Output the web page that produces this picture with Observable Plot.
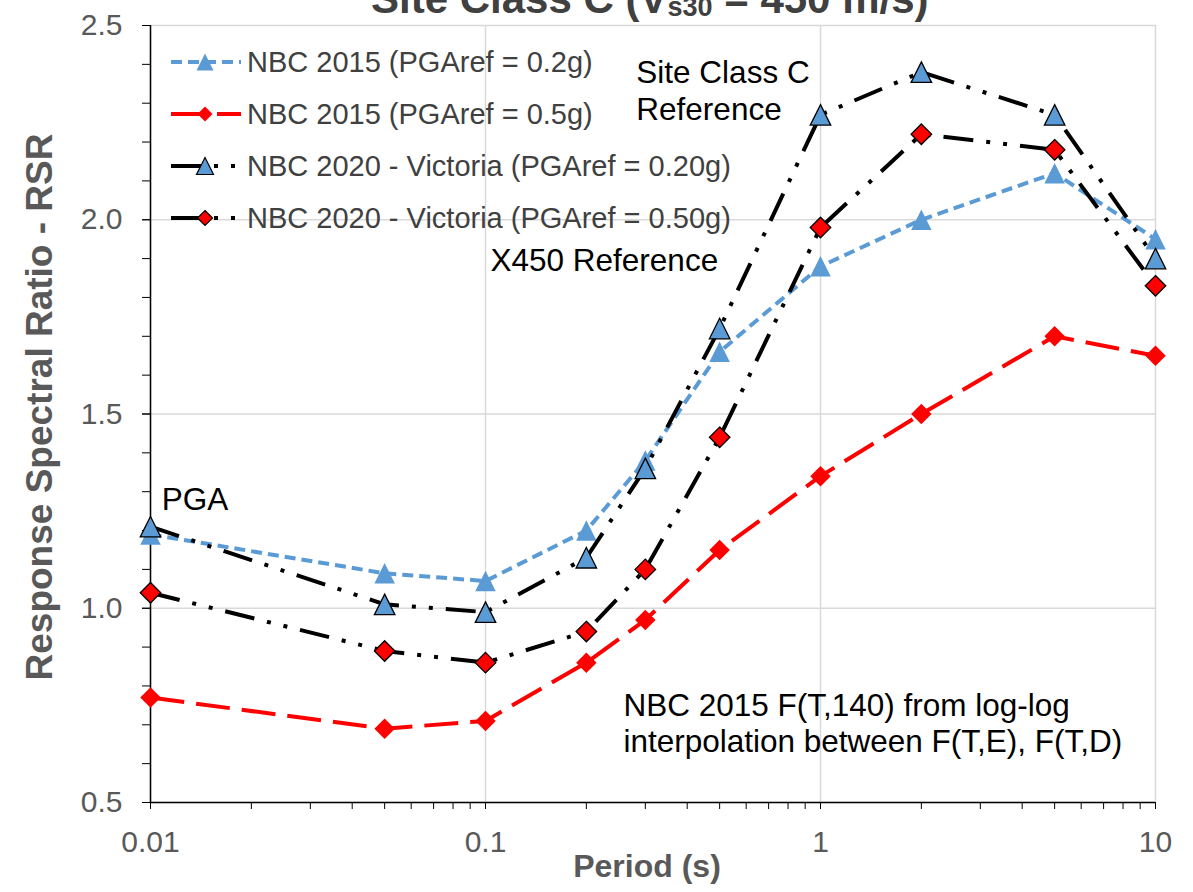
<!DOCTYPE html>
<html><head><meta charset="utf-8">
<script src="https://cdn.jsdelivr.net/npm/d3@7"></script>
<script src="https://cdn.jsdelivr.net/npm/@observablehq/plot@0.6"></script>
<style>
body{margin:0;background:#fff;font-family:"Liberation Sans",Arial,sans-serif;}
#wrap{position:relative;width:1193px;height:892px;overflow:hidden;background:#fff;}
#legend{position:absolute;left:171px;top:36px;}
.row{display:flex;align-items:center;height:52px;font-size:29px;color:#404040;white-space:nowrap;}
.row svg{margin-right:6px;flex:none;display:block;}
</style></head><body><div id="wrap"><div id="legend"></div></div>
<script>
// ---- data ----
const periods = [0.01, 0.05, 0.1, 0.2, 0.3, 0.5, 1, 2, 5, 10];
const nbc2015_02 = [1.19, 1.09, 1.07, 1.20, 1.38, 1.66, 1.88, 2.00, 2.12, 1.95];
const nbc2015_05 = [0.77, 0.69, 0.71, 0.86, 0.97, 1.15, 1.34, 1.50, 1.70, 1.65];
const nbc2020_02 = [1.21, 1.01, 0.99, 1.13, 1.36, 1.72, 2.27, 2.38, 2.27, 1.90];
const nbc2020_05 = [1.04, 0.89, 0.86, 0.94, 1.10, 1.44, 1.98, 2.22, 2.18, 1.83];
const seriesNames = [
  "NBC 2015 (PGAref = 0.2g)",
  "NBC 2015 (PGAref = 0.5g)",
  "NBC 2020 - Victoria (PGAref = 0.20g)",
  "NBC 2020 - Victoria (PGAref = 0.50g)"
];
const xMajorTicks = [0.01, 0.1, 1, 10];
const xTickLabels = ["0.01", "0.1", "1", "10"];
const yMajorTicks = [0.5, 1.0, 1.5, 2.0, 2.5];
const yMinorTicks = d3.range(5, 26).map(i => i / 10);
const xMinorTicks = [0.01, 0.1, 1].flatMap(d => [2,3,4,5,6,7,8,9].map(m => m * d));
const titleMain = "Site Class C (V", titleSub = "s30", titleEnd = " = 450 m/s)";
const xLabel = "Period (s)";
const yLabel = "Response Spectral Ratio - RSR";
const notes = [
  {text: "PGA", x: 0.0108, y: 1.254},
  {text: "Site Class C\nReference", x: 0.282, y: 2.258},
  {text: "X450 Reference", x: 0.1035, y: 1.869},
  {text: "NBC 2015 F(T,140) from log-log\ninterpolation between F(T,E), F(T,D)", x: 0.258, y: 0.629}
];

// ---- styles ----
const BLUE = "#5B9BD5", RED = "#FF0000";
const triSym = {draw(ctx, size){ const h = Math.sqrt(size); ctx.moveTo(0,-h/2); ctx.lineTo(h/2,h/2); ctx.lineTo(-h/2,h/2); ctx.closePath(); }};
const diaSym = {draw(ctx, size){ const d = Math.sqrt(size)/2; ctx.moveTo(0,-d); ctx.lineTo(d,0); ctx.lineTo(0,d); ctx.lineTo(-d,0); ctx.closePath(); }};
const DASHDOT = "30,13,4,13,4,13";
const styles = [
  {values: nbc2015_02, stroke: BLUE, dash: "11,6", sym: triSym, fill: BLUE, mstroke: "none", legSize: 289},
  {values: nbc2015_05, stroke: RED, dash: "34,12", sym: diaSym, fill: RED, mstroke: "none", legSize: 225},
  {values: nbc2020_02, stroke: "black", dash: DASHDOT, sym: triSym, fill: BLUE, mstroke: "black", legSize: 289},
  {values: nbc2020_05, stroke: "black", dash: DASHDOT, sym: diaSym, fill: RED, mstroke: "black", legSize: 225}
];
const R = Math.sqrt(420 / Math.PI);

const marks = [
  Plot.gridY(yMajorTicks, {stroke: "#d9d9d9", strokeOpacity: 1, strokeWidth: 1.5}),
  Plot.gridX(xMajorTicks, {stroke: "#d9d9d9", strokeOpacity: 1, strokeWidth: 1.5}),
  Plot.axisY({ticks: yMinorTicks, tickSize: 8, tickFormat: () => "", stroke: "black", label: null}),
  Plot.axisY({ticks: yMajorTicks, tickSize: 8, tickPadding: 20, tickFormat: d3.format(".1f"), fontSize: 30, fill: "#595959", stroke: "black", label: null}),
  Plot.axisX({ticks: xMinorTicks, tickSize: 7, tickFormat: () => "", stroke: "black", label: null}),
  Plot.axisX({ticks: xMajorTicks, tickSize: 7, tickPadding: 21, tickFormat: d => xTickLabels[xMajorTicks.indexOf(d)], fontSize: 30, fill: "#595959", stroke: "black", label: null}),
  Plot.ruleX([0.01], {stroke: "black", strokeWidth: 1.5}),
  Plot.ruleY([0.5], {stroke: "black", strokeWidth: 1.5})
];
styles.forEach((s, k) => {
  const rows = periods.map((p, i) => ({period: p, value: s.values[i], series: seriesNames[k]}));
  marks.push(Plot.line(rows, {x: "period", y: "value", stroke: s.stroke, strokeWidth: 4, strokeDasharray: s.dash, strokeLinecap: "butt", strokeLinejoin: "round"}));
  marks.push(Plot.dot(rows, {x: "period", y: "value", r: R, symbol: s.sym, fill: s.fill, stroke: s.mstroke, strokeWidth: 1.3}));
});
marks.push(Plot.text(notes, {x: "x", y: "y", text: "text", textAnchor: "start", lineAnchor: "bottom", lineHeight: 1.17, fontSize: 31.5, fill: "black"}));

const chart = Plot.plot({
  width: 1193, height: 892,
  marginLeft: 150, marginRight: 38, marginTop: 25, marginBottom: 90,
  x: {type: "log", domain: [0.01, 10]},
  y: {domain: [0.5, 2.5]},
  style: {fontFamily: '"Liberation Sans", Arial, sans-serif', fontSize: "30px", background: "white", color: "#595959"},
  marks
});
document.getElementById("wrap").prepend(chart);

const svg = d3.select(chart);
const FF = '"Liberation Sans", Arial, sans-serif';
const t = svg.append("text").attr("x", 371).attr("y", 13).attr("text-anchor", "start").attr("font-size", 42).attr("font-weight", "bold")
  .attr("fill", "#404040").attr("font-family", FF);
t.append("tspan").text(titleMain);
t.append("tspan").attr("font-size", 27).attr("dy", 3).text(titleSub);
t.append("tspan").attr("dy", -3).attr("font-size", 42).text(titleEnd);
svg.append("text").attr("x", 647).attr("y", 877).attr("text-anchor", "middle").attr("font-size", 32)
  .attr("font-weight", "bold").attr("fill", "#595959").attr("font-family", FF).text(xLabel);
svg.append("text").attr("transform", "translate(52,407) rotate(-90)").attr("text-anchor", "middle").attr("font-size", 37)
  .attr("font-weight", "bold").attr("fill", "#595959").attr("font-family", FF).text(yLabel);

// ---- legend ----
const legend = d3.select("#legend");
styles.forEach((s, k) => {
  const row = legend.append("div").attr("class", "row");
  const ls = row.append("svg").attr("width", 70).attr("height", 30);
  ls.append("line").attr("x1", 0).attr("x2", 70).attr("y1", 15).attr("y2", 15)
    .attr("stroke", s.stroke).attr("stroke-width", 4).attr("stroke-dasharray", s.dash);
  ls.append("path").attr("transform", "translate(34,15)").attr("d", d3.symbol(s.sym, s.legSize)())
    .attr("fill", s.fill).attr("stroke", s.mstroke).attr("stroke-width", 1.2);
  row.append("span").text(seriesNames[k]);
});
</script></body></html>
